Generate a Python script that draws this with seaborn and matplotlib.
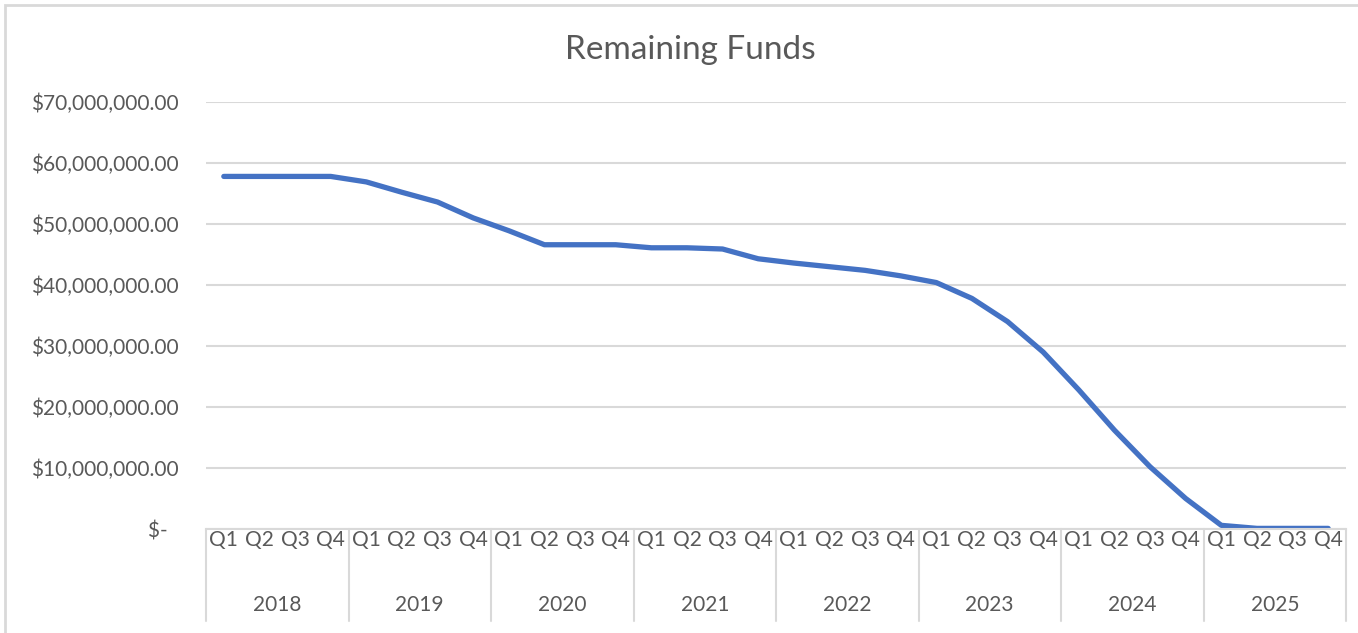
import numpy as np
import pandas as pd
import matplotlib
matplotlib.use("Agg")
import matplotlib.pyplot as plt
import matplotlib.transforms as mtransforms
from matplotlib.patches import Rectangle
import seaborn as sns


YEARS = ['2018', '2019', '2020', '2021', '2022', '2023', '2024', '2025']
QUARTERS = ['Q1', 'Q2', 'Q3', 'Q4']

# remaining funds per quarter, in dollars
FUNDS = [57.8e6, 57.8e6, 57.8e6, 57.8e6,
         56.9e6, 55.2e6, 53.6e6, 51.0e6,
         48.9e6, 46.6e6, 46.6e6, 46.6e6,
         46.1e6, 46.1e6, 45.9e6, 44.3e6,
         43.6e6, 43.0e6, 42.4e6, 41.5e6,
         40.4e6, 37.8e6, 34.0e6, 29.0e6,
         22.8e6, 16.2e6, 10.2e6, 5.0e6,
         0.6e6, 0.1e6, 0.1e6, 0.1e6]

Y_TICKS = [0, 10e6, 20e6, 30e6, 40e6, 50e6, 60e6, 70e6]

TEXT_COLOR = '#595959'
GRID_COLOR = '#D9D9D9'
LINE_COLOR = '#4472C4'


def money(v, pos=None):
    if v == 0:
        return '$-  '
    return f'${v:,.2f}'


data = pd.DataFrame({
    'Year': np.repeat(YEARS, len(QUARTERS)),
    'Quarter': QUARTERS * len(YEARS),
    'Funds': FUNDS,
})
data['idx'] = np.arange(len(data))

sns.set_style('white')
plt.rcParams['font.family'] = ['Lato', 'DejaVu Sans']

fig = plt.figure(figsize=(13.58, 6.33), dpi=100)
ax = fig.add_axes([206 / 1358, 1 - 529 / 633, (1346 - 206) / 1358, (529 - 102) / 633])

sns.lineplot(data=data, x='idx', y='Funds', color=LINE_COLOR, linewidth=3.8,
             solid_capstyle='round', ax=ax)

ax.set_xlim(-0.5, len(data) - 0.5)
ax.set_ylim(0, 70e6)
ax.set_yticks(Y_TICKS)
ax.yaxis.set_major_formatter(plt.FuncFormatter(money))
ax.set_xticks(data['idx'])
ax.set_xticklabels(data['Quarter'])
ax.tick_params(axis='both', length=0, labelsize=15, colors=TEXT_COLOR)
ax.tick_params(axis='y', pad=20)
ax.tick_params(axis='x', pad=1)
ax.set_xlabel('')
ax.set_ylabel('')

ax.grid(True, axis='y', color=GRID_COLOR, linewidth=1.5)
ax.set_axisbelow(True)
for side in ['top', 'right', 'left']:
    ax.spines[side].set_visible(False)
ax.spines['bottom'].set_color(GRID_COLOR)
ax.spines['bottom'].set_linewidth(1.5)

# year groups under the quarter labels
trans = mtransforms.blended_transform_factory(ax.transData, ax.transAxes)
for i, year in enumerate(YEARS):
    center = data.loc[data['Year'] == year, 'idx'].mean()
    ax.text(center, -0.178, year, transform=trans, ha='center', va='center',
            fontsize=15, color=TEXT_COLOR)
for b in np.arange(-0.5, len(data), len(QUARTERS)):
    ax.plot([b, b], [0, -0.215], transform=trans, color=GRID_COLOR,
            linewidth=1.5, clip_on=False)

fig.text(690 / 1358, 1 - 50 / 633, 'Remaining Funds', ha='center', va='center',
         fontsize=24, color=TEXT_COLOR)

fig.patches.append(Rectangle((5 / 1358, -0.05), 1.2, 1 - 5 / 633 + 0.05,
                             transform=fig.transFigure, fill=False,
                             edgecolor=GRID_COLOR, linewidth=2))

fig.savefig('out.png', dpi=100, facecolor='white')
